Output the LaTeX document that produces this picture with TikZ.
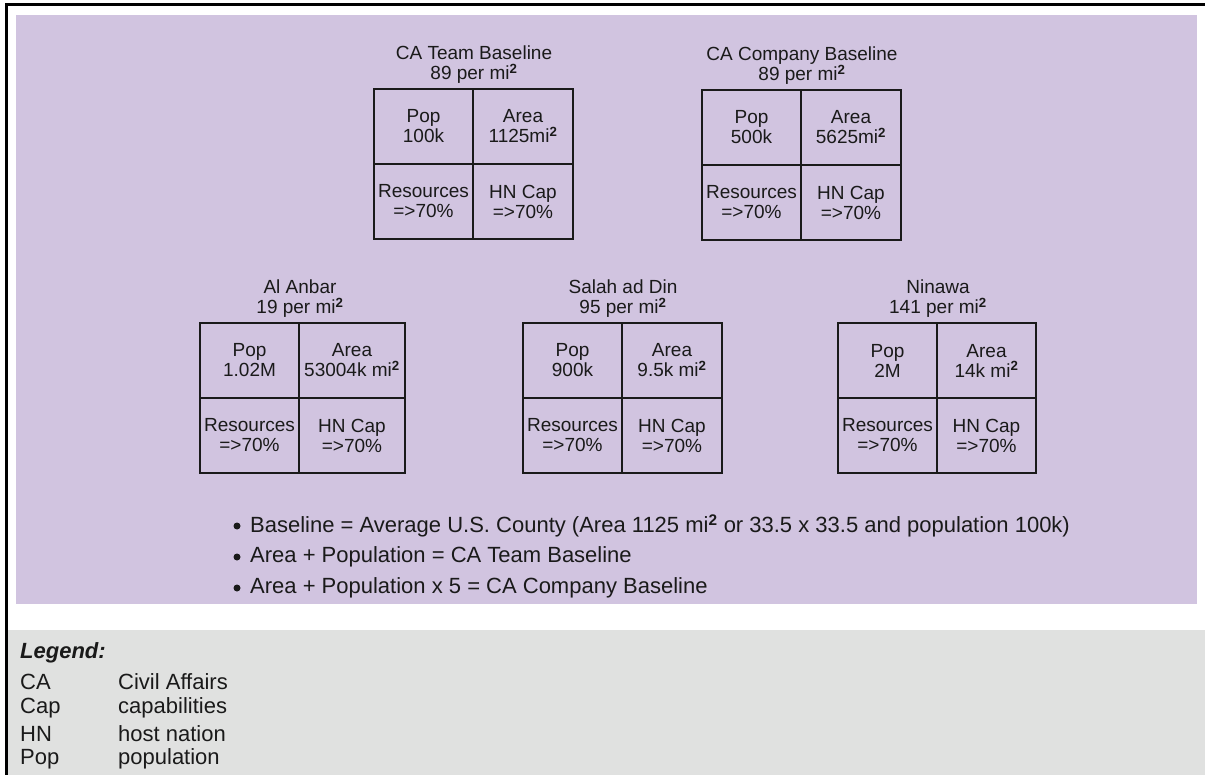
\documentclass[tikz,border=0pt]{standalone}
\usepackage{fontspec}
\setmainfont{Liberation Sans}
\definecolor{bgpurple}{HTML}{D1C4E0}
\definecolor{leggray}{HTML}{E0E1E0}
\definecolor{ink}{HTML}{1A1A1A}
\newcommand\txtfont{\fontsize{19}{20}\selectfont}
\newcommand\bigfont{\fontsize{22}{24}\selectfont}
\tikzset{
  cell/.style={draw=ink, line width=1.4pt, align=center, inner sep=0pt, font=\txtfont, text=ink},
  ttl/.style={align=center, inner sep=0pt, font=\txtfont, text=ink},
  txt/.style={anchor=west, inner sep=0pt, font=\bigfont, text=ink},
  bul/.style={circle, fill=ink, inner sep=0pt, minimum size=7pt},
}
\newcommand\sq{\textsuperscript{\textbf{2}}}
% #1 name, #2 left x, #3 mid x, #4 right x, #5 top y, #6 title, #7 density, #8 pop, #9 area
\newcommand\panel[9]{%
  \node[cell, minimum width={#3-#2}, minimum height=75] (#1pop) at ({(#2+#3)/2},{#5+37.5}) {Pop\\#8};
  \node[cell, minimum width={#4-#3}, minimum height=75] (#1area) at ({(#3+#4)/2},{#5+37.5}) {Area\\#9};
  \node[cell, minimum width={#3-#2}, minimum height=75] (#1res) at ({(#2+#3)/2},{#5+112.5}) {Resources\\=>70\%};
  \node[cell, minimum width={#4-#3}, minimum height=75] (#1hn) at ({(#3+#4)/2},{#5+112.5}) {HN Cap\\=>70\%};
  \node[ttl] (#1ttl) at ({#3+1},{#5-24}) {#6\\#7 per mi\sq};
}
\begin{document}
\begin{tikzpicture}[x=1pt,y=-1pt]
\useasboundingbox (0,0) rectangle (1205,775);
\fill[white] (0,0) rectangle (1205,775);
\fill[bgpurple] (16,15) rectangle (1197,604);
\fill[leggray] (7,630) rectangle (1205,775);
\draw[black, line width=3pt] (6,776) -- (6,5) -- (1206,5);

\panel{team}{374}{473}{573}{89}{CA Team Baseline}{89}{100k}{1125mi\sq}
\panel{comp}{702}{801}{901}{90}{CA Company Baseline}{89}{500k}{5625mi\sq}
\panel{anbar}{200}{299}{405}{323}{Al Anbar}{19}{1.02M}{53004k mi\sq}
\panel{salah}{523}{622}{722}{323}{Salah ad Din}{95}{900k}{9.5k mi\sq}
\panel{ninawa}{838}{937}{1036}{323}{Ninawa}{141}{2M}{14k mi\sq}

\node[bul] (d1) at (237,526) {};
\node[bul] (d2) at (237,557) {};
\node[bul] (d3) at (237,588) {};
\node[txt] (b1) at (250,526) {Baseline = Average U.S. County (Area 1125 mi\sq{} or 33.5 x 33.5 and population 100k)};
\node[txt] (b2) at (250,557) {Area + Population = CA Team Baseline};
\node[txt] (b3) at (250,588) {Area + Population x 5 = CA Company Baseline};

\node[txt, font=\bigfont\bfseries\itshape] (leg) at (20,653) {Legend:};
\node[txt] (k1) at (20,682) {CA};
\node[txt] (k2) at (20,708) {Cap};
\node[txt] (k3) at (20,734) {HN};
\node[txt] (k4) at (20,759) {Pop};
\node[txt] (e1) at (118,682) {Civil Affairs};
\node[txt] (e2) at (118,708) {capabilities};
\node[txt] (e3) at (118,734) {host nation};
\node[txt] (e4) at (118,759) {population};
\end{tikzpicture}
\end{document}
